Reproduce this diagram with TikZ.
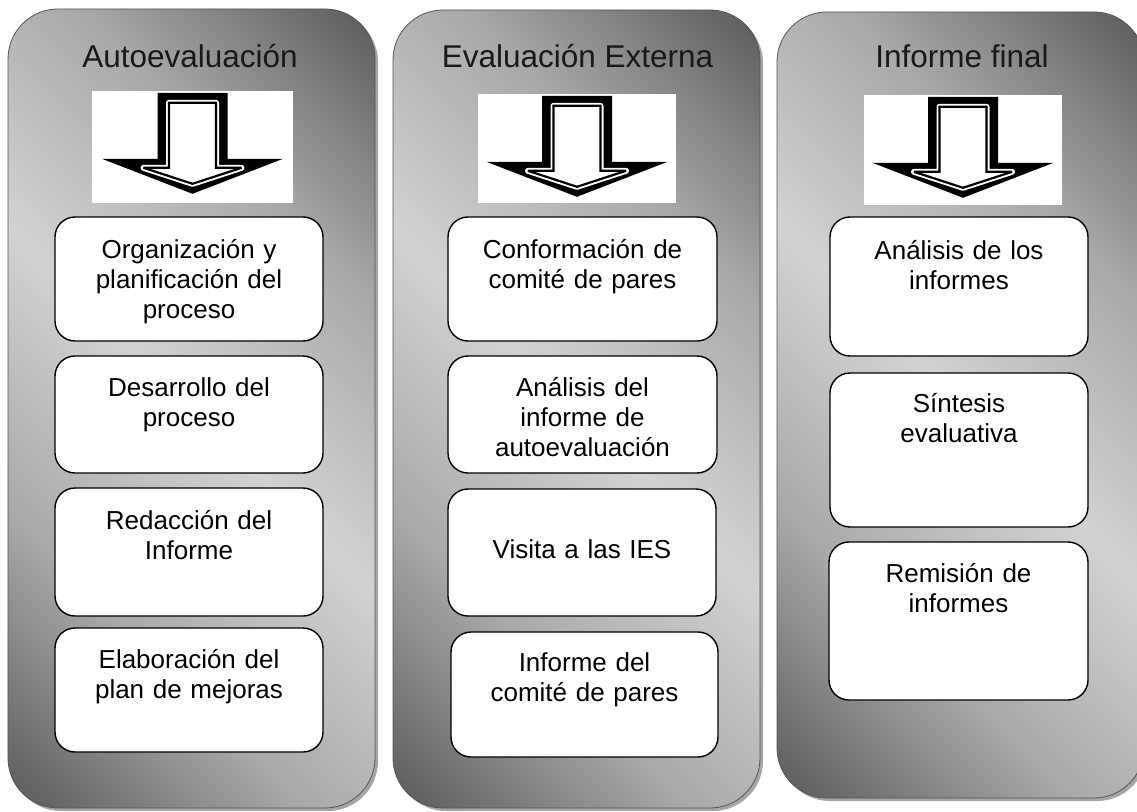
\documentclass[tikz,border=0pt]{standalone}
\usepackage{fontspec}
\setmainfont{Liberation Sans}
\usetikzlibrary{shadows}
\definecolor{gdark}{HTML}{5A5A5A}
\definecolor{gmid}{HTML}{A8A8A8}
\definecolor{glight}{HTML}{D2D2D2}
\definecolor{edgegray}{HTML}{555555}
\pgfdeclareverticalshading{colshade}{100bp}{color(0bp)=(gdark); color(14.6bp)=(gdark); color(32.3bp)=(gmid); color(50bp)=(glight); color(67.7bp)=(gmid); color(85.4bp)=(gdark); color(100bp)=(gdark)}
\tikzset{
  column/.style={draw=edgegray, line width=0.8bp, rounded corners=50bp, shade, shading=colshade, shading angle=-45,
    minimum width=367bp, inner sep=0pt,
    drop shadow={shadow xshift=3bp, shadow yshift=-3bp, opacity=0.5, fill=black!70}},
  title/.style={anchor=base, font=\fontsize{31.5bp}{36bp}\selectfont, text=black!90, inner sep=0pt},
  stepbox/.style={draw=black, line width=1.4bp, fill=white, rounded corners=20bp, inner sep=0pt},
  boxtext/.style={anchor=base, text width=262bp, align=center, font=\fontsize{26bp}{30bp}\selectfont, inner sep=0pt},
  iconbg/.style={fill=white, inner sep=0pt},
  pics/downarrow/.style={code={
    \fill[black] (-35,2) -- (35,2) -- (35,68) -- (90.5,68) -- (0,103) -- (-90.5,68) -- (-35,68) -- cycle;
    \draw[white, line width=6bp, line join=round] (-23.5,12) -- (23.5,12) -- (23.5,77) -- (49,77) -- (0,93) -- (-49,77) -- (-23.5,77) -- cycle;
    \draw[black, line width=2.2bp, fill=white, line join=miter, miter limit=4] (-23.5,12) -- (23.5,12) -- (23.5,77) -- (49,77) -- (0,93) -- (-49,77) -- (-23.5,77) -- cycle;
  }}
}
\begin{document}
\begin{tikzpicture}[x=1bp,y=-1bp]
\clip (0,0) rectangle (1137,812);
\fill[white] (0,0) rectangle (1137,812);

% columns
\node[column, minimum height=799bp] (c1) at (191.5,408.5) {};
\node[column, minimum height=798bp] (c2) at (576.5,409) {};
\node[column, minimum height=786bp] (c3) at (960.5,405) {};

% titles
\node[title] (t1) at (190,68) {Autoevaluación};
\node[title] (t2) at (577.5,68) {Evaluación Externa};
\node[title] (t3) at (962,68) {Informe final};

% arrow icons
\node[iconbg, minimum width=201bp, minimum height=112bp] (a1) at (192.5,147) {};
\node[iconbg, minimum width=198bp, minimum height=109bp] (a2) at (577,148.5) {};
\node[iconbg, minimum width=198bp, minimum height=110bp] (a3) at (963,150) {};
\pic at (a1.north) {downarrow};
\pic at (a2.north) {downarrow};
\pic at (a3.north) {downarrow};

% column 1 boxes
\node[stepbox, minimum width=268bp, minimum height=124bp] (b11) at (189,279) {};
\node[stepbox, minimum width=268bp, minimum height=117bp] (b12) at (189,414.5) {};
\node[stepbox, minimum width=268bp, minimum height=128bp] (b13) at (189,552) {};
\node[stepbox, minimum width=268bp, minimum height=124bp] (b14) at (189,690) {};
\node[boxtext] (x11) at ([yshift=-42.5bp]b11.north) {Organización y\\planificación del\\proceso};
\node[boxtext] (x12) at ([yshift=-41bp]b12.north) {Desarrollo del\\proceso};
\node[boxtext] (x13) at ([yshift=-42bp]b13.north) {Redacción del\\Informe};
\node[boxtext] (x14) at ([yshift=-41bp]b14.north) {Elaboración del\\plan de mejoras};

% column 2 boxes
\node[stepbox, minimum width=269bp, minimum height=124bp] (b21) at (582.5,279) {};
\node[stepbox, minimum width=269bp, minimum height=117bp] (b22) at (582.5,414.5) {};
\node[stepbox, minimum width=268bp, minimum height=127bp] (b23) at (582,552.5) {};
\node[stepbox, minimum width=267bp, minimum height=125bp] (b24) at (584.5,694.5) {};
\node[boxtext] (x21) at ([yshift=-42.5bp]b21.north) {Conformación de\\comité de pares};
\node[boxtext] (x22) at ([yshift=-41bp]b22.north) {Análisis del\\informe de\\autoevaluación};
\node[boxtext] (x23) at ([yshift=-70bp]b23.north) {Visita a las IES};
\node[boxtext] (x24) at ([yshift=-40bp]b24.north) {Informe del\\comité de pares};

% column 3 boxes
\node[stepbox, minimum width=258bp, minimum height=139bp] (b31) at (959,286.5) {};
\node[stepbox, minimum width=258bp, minimum height=154bp] (b32) at (959,450) {};
\node[stepbox, minimum width=259bp, minimum height=158bp] (b33) at (958.5,621) {};
\node[boxtext] (x31) at ([yshift=-43bp]b31.north) {Análisis de los\\informes};
\node[boxtext] (x32) at ([yshift=-40bp]b32.north) {Síntesis\\evaluativa};
\node[boxtext] (x33) at ([yshift=-41bp]b33.north) {Remisión de\\informes};
\end{tikzpicture}
\end{document}
